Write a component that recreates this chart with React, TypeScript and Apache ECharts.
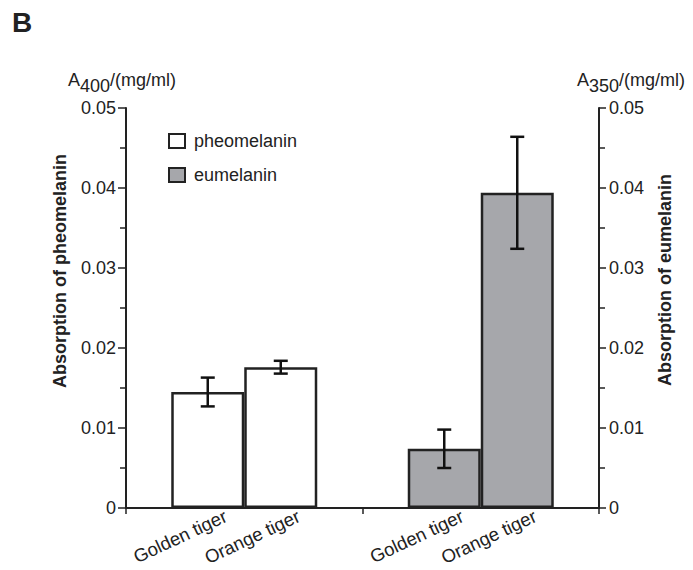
import React, { useEffect, useRef } from 'react';
import * as echarts from 'echarts';

// ---- data ----
const groups = ['pheomelanin', 'eumelanin'];
const tigers = ['Golden tiger', 'Orange tiger'];
const pheomelaninMeans = [0.0145, 0.0176];
const pheomelaninErrors = [0.0018, 0.0008];
const eumelaninMeans = [0.0074, 0.0394];
const eumelaninErrors = [0.0024, 0.007];
const yTickLabels = ['0', '0.01', '0.02', '0.03', '0.04', '0.05'];

const FONT = '"Liberation Sans", Arial, Helvetica, sans-serif';
const INK = '#222';
const GRAY = '#a6a7ab';
const BAR_W = 73;

export default function App() {
  const ref = useRef<HTMLDivElement>(null);

  useEffect(() => {
    const chart = echarts.init(ref.current as HTMLDivElement, null, { renderer: 'svg' });

    const barSeries = (
      name: string,
      gi: number,
      ti: number,
      values: number[],
      fill: string,
      yAxisIndex: number
    ) => ({
      name,
      type: 'bar',
      stack: tigers[ti],
      yAxisIndex,
      barWidth: BAR_W,
      barGap: '0%',
      data: groups.map((_, i) => (i === gi ? values[ti] : '-')),
      itemStyle: { color: fill, borderColor: INK, borderWidth: 2.5 },
      z: 2,
    });

    const errorRender = (params: any, api: any) => {
      const g = api.value(0);
      const mean = api.value(1);
      const err = api.value(2);
      const t = api.value(3);
      const base = api.coord([g, mean]);
      const x = base[0] + (t - 0.5) * BAR_W;
      const top = api.coord([g, mean + err])[1];
      const bot = api.coord([g, mean - err])[1];
      const style = { stroke: '#111', lineWidth: 2.5 };
      return {
        type: 'group',
        children: [
          { type: 'line', shape: { x1: x, y1: top, x2: x, y2: bot }, style },
          { type: 'line', shape: { x1: x - 7, y1: top, x2: x + 7, y2: top }, style },
          { type: 'line', shape: { x1: x - 7, y1: bot, x2: x + 7, y2: bot }, style },
        ],
      };
    };

    const labelRender = (params: any, api: any) => {
      const g = api.value(0);
      const t = api.value(2);
      const p = api.coord([g, 0]);
      return {
        type: 'text',
        x: p[0] + (t - 0.5) * BAR_W + 18,
        y: p[1] + 7,
        rotation: (25 * Math.PI) / 180,
        style: {
          text: tigers[t],
          align: 'right',
          verticalAlign: 'middle',
          font: `18.5px ${FONT}`,
          fill: INK,
        },
      };
    };

    const yAxisCommon = {
      type: 'value',
      min: 0,
      max: 0.05,
      interval: 0.01,
      axisLine: { show: true, lineStyle: { color: INK, width: 2 } },
      axisTick: { show: true, length: 8, lineStyle: { color: INK, width: 1.5 } },
      minorTick: { show: true, splitNumber: 2, length: 6, lineStyle: { color: INK, width: 1.5 } },
      splitLine: { show: false },
      axisLabel: {
        margin: 10,
        color: INK,
        fontFamily: FONT,
        fontSize: 18,
        formatter: (v: number) => yTickLabels[Math.round(v / 0.01)],
      },
    };

    const subTitle = (xA: number, x2: number, x3: number, sub: string) => [
      { type: 'text', x: xA, y: 71, style: { text: 'A', font: `18px ${FONT}`, fill: INK, verticalAlign: 'top' } },
      { type: 'text', x: x2, y: 77, style: { text: sub, font: `18px ${FONT}`, fill: INK, verticalAlign: 'top' } },
      { type: 'text', x: x3, y: 71, style: { text: '/(mg/ml)', font: `18px ${FONT}`, fill: INK, verticalAlign: 'top' } },
    ];

    chart.setOption({
      animation: false,
      backgroundColor: '#fff',
      grid: { left: 126, right: 94, top: 108, bottom: 62, containLabel: false },
      legend: {
        data: groups,
        orient: 'vertical',
        left: 163,
        top: 127,
        itemWidth: 16,
        itemHeight: 14,
        itemGap: 16,
        icon: 'rect',
        itemStyle: { borderColor: INK, borderWidth: 2 },
        textStyle: { fontFamily: FONT, fontSize: 18, color: INK, padding: [0, 0, 0, 4] },
        selectedMode: false,
      },
      xAxis: {
        type: 'category',
        data: groups,
        boundaryGap: true,
        axisLine: { show: true, lineStyle: { color: INK, width: 2 } },
        axisTick: { show: true, length: 6, lineStyle: { color: INK, width: 1.5 } },
        axisLabel: { show: false },
        splitLine: { show: false },
      },
      yAxis: [
        { ...yAxisCommon, position: 'left' },
        { ...yAxisCommon, position: 'right', axisTick: { ...yAxisCommon.axisTick, length: 7 } },
      ],
      graphic: [
        { type: 'text', x: 12, y: 8, style: { text: 'B', font: `bold 28px ${FONT}`, fill: INK, verticalAlign: 'top' } },
        ...subTitle(68, 80, 110, '400'),
        ...subTitle(577, 589, 619, '350'),
        {
          type: 'text',
          x: 59.5,
          y: 271,
          rotation: Math.PI / 2,
          style: {
            text: 'Absorption of pheomelanin',
            font: `bold 18px ${FONT}`,
            fill: INK,
            align: 'center',
            verticalAlign: 'middle',
          },
        },
        {
          type: 'text',
          x: 665,
          y: 280,
          rotation: Math.PI / 2,
          style: {
            text: 'Absorption of eumelanin',
            font: `bold 18px ${FONT}`,
            fill: INK,
            align: 'center',
            verticalAlign: 'middle',
          },
        },
      ],
      series: [
        barSeries('pheomelanin', 0, 0, pheomelaninMeans, '#ffffff', 0),
        barSeries('pheomelanin', 0, 1, pheomelaninMeans, '#ffffff', 0),
        barSeries('eumelanin', 1, 0, eumelaninMeans, GRAY, 1),
        barSeries('eumelanin', 1, 1, eumelaninMeans, GRAY, 1),
        {
          name: 'pheomelanin error',
          type: 'custom',
          yAxisIndex: 0,
          renderItem: errorRender,
          encode: { x: 0, y: 1 },
          data: tigers.map((_, t) => [0, pheomelaninMeans[t], pheomelaninErrors[t], t]),
          z: 5,
          silent: true,
        },
        {
          name: 'eumelanin error',
          type: 'custom',
          yAxisIndex: 1,
          renderItem: errorRender,
          encode: { x: 0, y: 1 },
          data: tigers.map((_, t) => [1, eumelaninMeans[t], eumelaninErrors[t], t]),
          z: 5,
          silent: true,
        },
        {
          name: 'tiger labels',
          type: 'custom',
          yAxisIndex: 0,
          renderItem: labelRender,
          clip: false,
          encode: { x: 0, y: 1 },
          data: groups.flatMap((_, g) => tigers.map((__, t) => [g, 0, t])),
          z: 5,
          silent: true,
        },
      ],
    });

    return () => chart.dispose();
  }, []);

  return (
    <div
      ref={ref}
      style={{ position: 'fixed', left: 0, top: 0, width: 693, height: 570, background: '#fff' }}
    />
  );
}
